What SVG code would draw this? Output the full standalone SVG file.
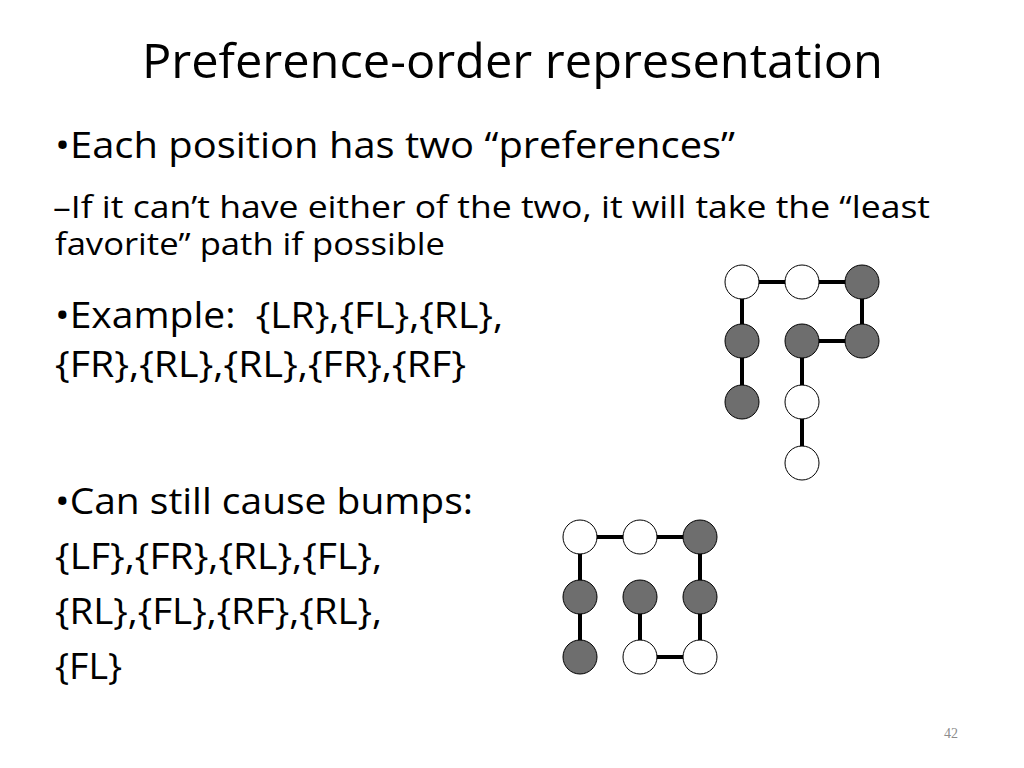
<svg xmlns="http://www.w3.org/2000/svg" width="1024" height="768" viewBox="0 0 1024 768">
  <style>
    .t { font-family: "Open Sans", "Liberation Sans", sans-serif; fill: #000; }
    .w { fill: #ffffff; stroke: #000; stroke-width: 1; }
    .g { fill: #6e6e6e; stroke: #000; stroke-width: 1; }
    .e { stroke: #000; stroke-width: 4; fill: none; }
    .pn { font-family: "Liberation Serif", serif; font-size: 14px; fill: #8c8c8c; }
  </style>
  <rect x="0" y="0" width="1024" height="768" fill="#ffffff"/>

  <g id="title">
    <text class="t" x="142" y="78" font-size="48" textLength="741" lengthAdjust="spacingAndGlyphs">Preference-order representation</text>
  </g>

  <g id="body">
    <text class="t" x="55" y="158" font-size="36" textLength="680" lengthAdjust="spacingAndGlyphs">•Each position has two “preferences”</text>
    <text class="t" x="53" y="217.5" font-size="31" textLength="877" lengthAdjust="spacingAndGlyphs">–If it can’t have either of the two, it will take the “least</text>
    <text class="t" x="55" y="255" font-size="31" textLength="390" lengthAdjust="spacingAndGlyphs">favorite” path if possible</text>
    <text class="t" x="55" y="328" font-size="36" textLength="448" lengthAdjust="spacingAndGlyphs" xml:space="preserve">•Example:  {LR},{FL},{RL},</text>
    <text class="t" x="55" y="377" font-size="36" textLength="411" lengthAdjust="spacingAndGlyphs">{FR},{RL},{RL},{FR},{RF}</text>
    <text class="t" x="55" y="514" font-size="36" textLength="418" lengthAdjust="spacingAndGlyphs">•Can still cause bumps:</text>
    <text class="t" x="55" y="569" font-size="36" textLength="327" lengthAdjust="spacingAndGlyphs">{LF},{FR},{RL},{FL},</text>
    <text class="t" x="55" y="624" font-size="36" textLength="327" lengthAdjust="spacingAndGlyphs">{RL},{FL},{RF},{RL},</text>
    <text class="t" x="55" y="679" font-size="36" textLength="67" lengthAdjust="spacingAndGlyphs">{FL}</text>
  </g>

  <g id="connectors">
    <!-- graph 1 -->
    <line class="e" x1="742" y1="282" x2="802" y2="282"/>
    <line class="e" x1="802" y1="282" x2="862" y2="282"/>
    <line class="e" x1="742" y1="282" x2="742" y2="341"/>
    <line class="e" x1="742" y1="341" x2="742" y2="402"/>
    <line class="e" x1="862" y1="282" x2="862" y2="341"/>
    <line class="e" x1="802" y1="341" x2="862" y2="341"/>
    <line class="e" x1="802" y1="341" x2="802" y2="402"/>
    <line class="e" x1="802" y1="402" x2="802" y2="463"/>
    <!-- graph 2 -->
    <line class="e" x1="580" y1="537" x2="640" y2="537"/>
    <line class="e" x1="640" y1="537" x2="700" y2="537"/>
    <line class="e" x1="580" y1="537" x2="580" y2="597"/>
    <line class="e" x1="580" y1="597" x2="580" y2="657"/>
    <line class="e" x1="700" y1="537" x2="700" y2="597"/>
    <line class="e" x1="700" y1="597" x2="700" y2="657"/>
    <line class="e" x1="640" y1="597" x2="640" y2="657"/>
    <line class="e" x1="640" y1="657" x2="700" y2="657"/>
  </g>

  <g id="graph1">
    <g id="g1-n00"><circle class="w" cx="742" cy="282" r="17"/></g>
    <g id="g1-n10"><circle class="w" cx="802" cy="282" r="17"/></g>
    <g id="g1-n20"><circle class="g" cx="862" cy="282" r="17"/></g>
    <g id="g1-n01"><circle class="g" cx="742" cy="341" r="17"/></g>
    <g id="g1-n11"><circle class="g" cx="802" cy="341" r="17"/></g>
    <g id="g1-n21"><circle class="g" cx="862" cy="341" r="17"/></g>
    <g id="g1-n02"><circle class="g" cx="742" cy="402" r="17"/></g>
    <g id="g1-n12"><circle class="w" cx="802" cy="402" r="17"/></g>
    <g id="g1-n13"><circle class="w" cx="802" cy="463" r="17"/></g>
  </g>

  <g id="graph2">
    <g id="g2-n00"><circle class="w" cx="580" cy="537" r="17"/></g>
    <g id="g2-n10"><circle class="w" cx="640" cy="537" r="17"/></g>
    <g id="g2-n20"><circle class="g" cx="700" cy="537" r="17"/></g>
    <g id="g2-n01"><circle class="g" cx="580" cy="597" r="17"/></g>
    <g id="g2-n11"><circle class="g" cx="640" cy="597" r="17"/></g>
    <g id="g2-n21"><circle class="g" cx="700" cy="597" r="17"/></g>
    <g id="g2-n02"><circle class="g" cx="580" cy="657" r="17"/></g>
    <g id="g2-n12"><circle class="w" cx="640" cy="657" r="17"/></g>
    <g id="g2-n22"><circle class="w" cx="700" cy="657" r="17"/></g>
  </g>

  <g id="page-number">
    <text class="pn" x="944" y="738">42</text>
  </g>
</svg>
